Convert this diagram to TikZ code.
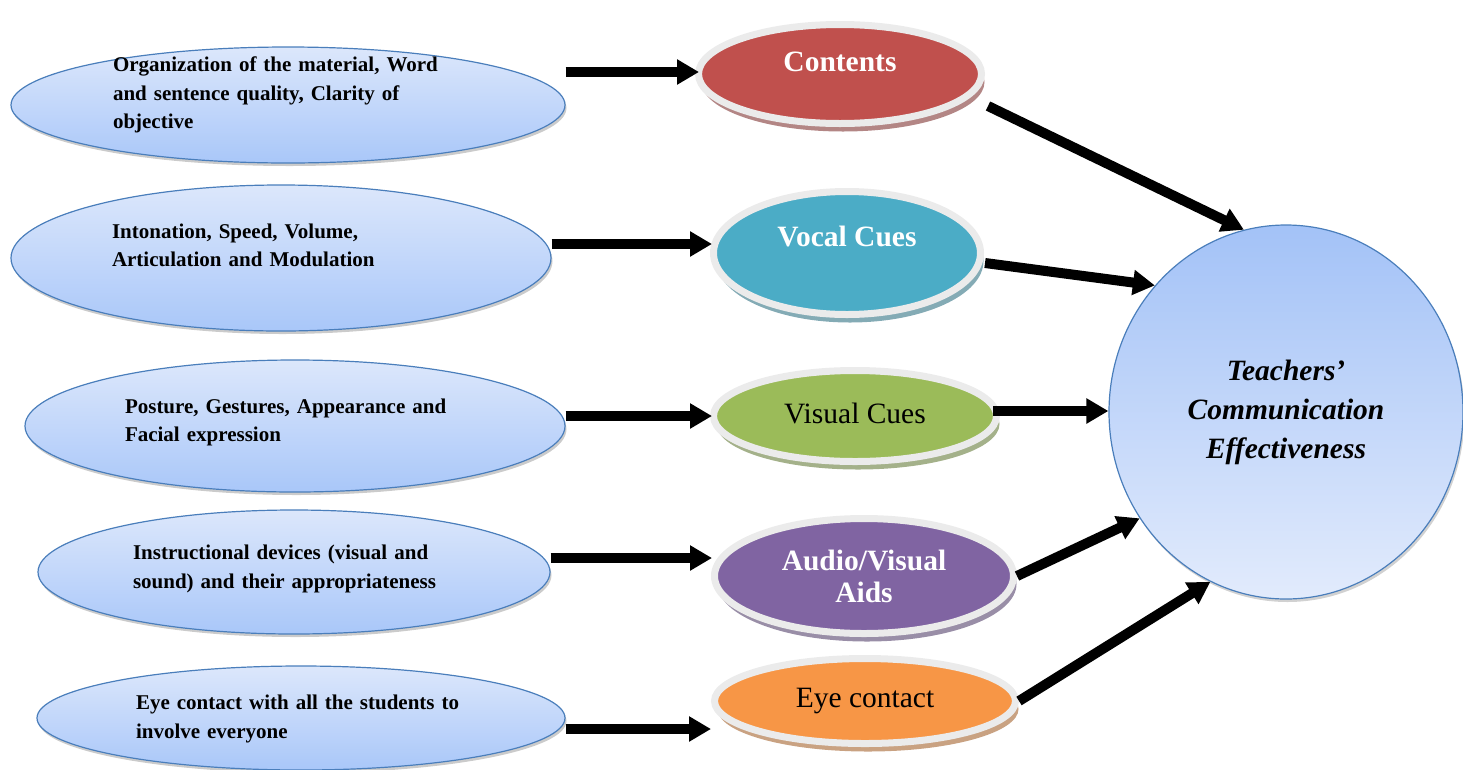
\documentclass[tikz,border=0pt]{standalone}
\usepackage{fontspec}
\setmainfont{Liberation Serif}
\usetikzlibrary{shapes.geometric,arrows.meta,shadows}

\definecolor{causeline}{HTML}{4A7EBB}
\definecolor{causetop}{HTML}{DCE7FB}
\definecolor{causebot}{HTML}{A9C7F9}
\definecolor{outtop}{HTML}{A3C2F7}
\definecolor{outbot}{HTML}{E2EBFC}
\definecolor{ringgray}{HTML}{EBEBEB}
\definecolor{cred}{HTML}{C0504D}
\definecolor{caqua}{HTML}{4BACC6}
\definecolor{cgreen}{HTML}{9BBB59}
\definecolor{cpurple}{HTML}{8064A2}
\definecolor{corange}{HTML}{F79646}

\begin{document}
\begin{tikzpicture}[x=1pt,y=-1pt,
  cause/.style={ellipse, draw=causeline, line width=1.2pt,
    top color=causetop, bottom color=causebot, inner sep=0pt,
    drop shadow={shadow xshift=1.5pt, shadow yshift=-3pt, fill=black!45, opacity=.45}},
  causetext/.style={font=\fontsize{21}{28.5}\selectfont\bfseries, align=left, inner sep=0pt},
  factor/.style={ellipse, fill=#1, draw=ringgray, line width=7pt, inner sep=0pt,
    drop shadow={shadow xshift=3pt, shadow yshift=-8pt, fill=#1!50!gray!80!white, opacity=1}},
  boldlabel/.style={font=\fontsize{29.5}{32}\selectfont\bfseries, text=white, align=center},
  plainlabel/.style={font=\fontsize{29.5}{32}\selectfont, text=black, align=center},
  outcome/.style={ellipse, draw=causeline, line width=1.2pt, top color=outtop, bottom color=outbot,
    inner sep=0pt, align=center, font=\fontsize{29.5}{39}\selectfont\bfseries\itshape,
    drop shadow={shadow xshift=1.5pt, shadow yshift=-3pt, fill=black!45, opacity=.4}},
  arr/.style={line width=10pt, -{Triangle[length=22pt,width=24pt]}}
]
\useasboundingbox (0,0) rectangle (1463,769);

% left column: indicators
\node[cause, minimum width=554pt, minimum height=116pt] (l1) at (288,105) {};
\node[cause, minimum width=540pt, minimum height=146pt] (l2) at (281,258) {};
\node[cause, minimum width=540pt, minimum height=132pt] (l3) at (295,426) {};
\node[cause, minimum width=512pt, minimum height=124pt] (l4) at (294,572) {};
\node[cause, minimum width=528pt, minimum height=104pt] (l5) at (301,718) {};

\node[causetext, text width=350pt] (l1t) at (288,95)
  {Organization of the material, Word\\ and sentence quality, Clarity of\\ objective};
\node[causetext, text width=338pt] (l2t) at (281,245.5)
  {Intonation, Speed, Volume,\\ Articulation and Modulation};
\node[causetext, text width=340pt] (l3t) at (295,422.5)
  {Posture, Gestures, Appearance and\\ Facial expression};
\node[causetext, text width=322pt] (l4t) at (294,569)
  {Instructional devices (visual and\\ sound) and their appropriateness};
\node[causetext, text width=330pt] (l5t) at (301,719)
  {Eye contact with all the students to\\ involve everyone};

% middle column: dimensions
\node[factor=cred, minimum width=283pt, minimum height=99pt, boldlabel, text depth=24pt] (c1) at (840,74) {Contents};
\node[factor=caqua, minimum width=267pt, minimum height=123pt, boldlabel, text depth=34pt] (c2) at (847,253) {Vocal Cues};
\node[factor=cgreen, minimum width=283pt, minimum height=91pt, plainlabel, text depth=6pt] (c3) at (855,416) {Visual Cues};
\node[factor=cpurple, minimum width=299pt, minimum height=115pt, boldlabel] (c4) at (864,576) {Audio/Visual\\ Aids};
\node[factor=corange, minimum width=301pt, minimum height=85pt, plainlabel] (c5) at (865,701) {Eye contact};

% outcome
\node[outcome, minimum width=354pt, minimum height=374pt] (T) at (1286,412)
  {Teachers'\\ Communication\\ Effectiveness};

% indicator -> dimension
\coordinate (a1) at ([shift={(4,-2)}]c1.west);
\coordinate (a2) at ([shift={(2,-9)}]c2.west);
\coordinate (a3) at ([xshift=2pt]c3.west);
\coordinate (a4) at ([shift={(1,-18)}]c4.west);
\coordinate (a5) at ([yshift=-28pt]c5.west);
\draw[arr] (l1.east |- a1) -- (a1);
\draw[arr] (l2.east |- a2) -- (a2);
\draw[arr] (l3.east |- a3) -- (a3);
\draw[arr] (l4.east |- a4) -- (a4);
\draw[arr] (l5.east |- a5) -- (a5);

% dimension -> outcome
\coordinate (b1) at ([shift={(148,32)}]c1.center);
\coordinate (b2) at ([shift={(138,10)}]c2.center);
\coordinate (b3) at ([shift={(-7,-5)}]c3.east);
\draw[arr] (b1) -- (T.103);
\draw[arr] (b2) -- (T.136);
\draw[arr] (b3) -- (T.west |- b3);
\draw[arr] (c4.east) -- (T.216);
\draw[arr] (c5.east) -- (T.246);
\end{tikzpicture}
\end{document}
